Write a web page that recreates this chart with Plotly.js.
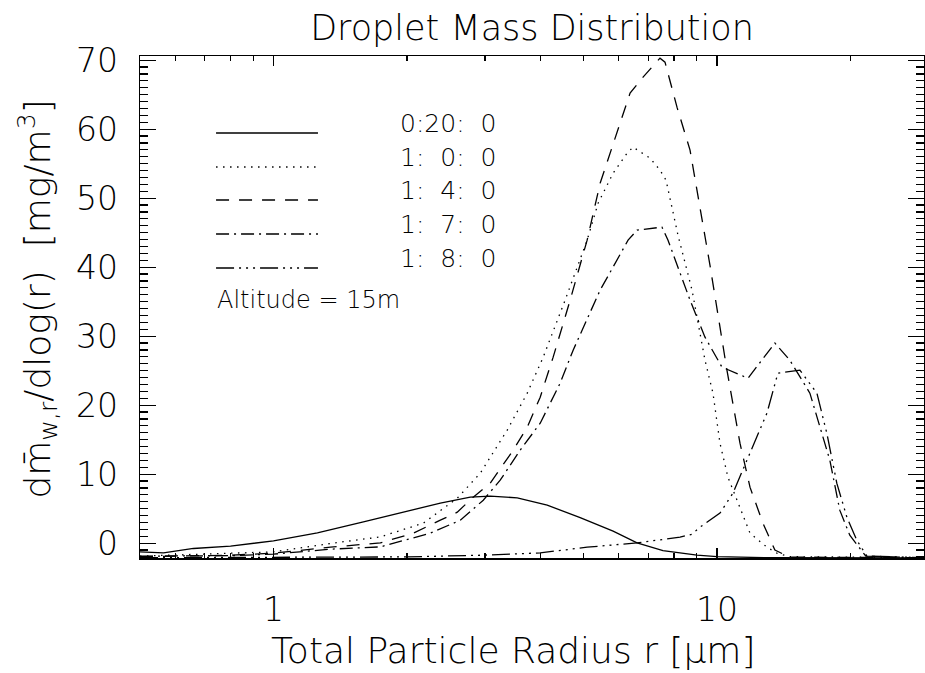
<!DOCTYPE html>
<html>
<head>
<meta charset="utf-8">
<script src="https://cdn.plot.ly/plotly-3.0.1.min.js"></script>
<style>
html,body{margin:0;padding:0;background:#fff;}
#chart{width:925px;height:673px;}
</style>
</head>
<body>
<div id="chart"></div>
<script>
// ---- data (radius in micrometres, dm/dlog(r) in mg/m^3) ----
const r_0_20_0 = [0.50,0.565,0.66,0.80,1.00,1.256,1.595,2.004,2.378,2.778,3.082,3.545,4.142,4.915,5.832,6.604,7.556,9.016,10.0,12.96,29.3];
const v_0_20_0 = [-1.26,-1.41,-0.77,-0.43,0.33,1.49,3.09,4.68,5.80,6.67,6.81,6.57,5.51,3.70,1.74,0.04,-1.09,-1.74,-1.96,-2.10,-2.12];

const r_1_0_0 = [0.50,0.595,0.80,1.00,1.344,1.742,2.177,2.597,2.926,3.365,3.734,4.057,4.546,5.096,5.396,5.832,6.271,6.469,7.065,7.44,7.676,7.918,8.168,8.786,9.397,9.795,10.157,10.587,11.093,11.871,12.962,13.65,14.60,29.3];
const v_1_0_0 = [-1.88,-1.74,-1.52,-1.26,-0.04,0.91,2.90,6.52,10.14,16.38,21.74,26.96,35.22,43.91,49.28,53.62,56.52,57.39,55.80,54.06,52.61,48.70,44.64,36.67,26.52,21.74,14.49,9.57,6.23,1.45,-0.58,-1.45,-1.96,-2.10];

const r_1_4_0 = [0.50,0.80,1.00,1.344,1.742,2.067,2.378,2.597,2.821,3.082,3.472,3.734,3.994,4.272,4.666,5.096,5.452,5.832,6.369,6.813,7.44,7.636,8.126,8.695,9.643,10.532,11.27,11.871,12.696,13.51,14.60,29.3];
const v_1_4_0 = [-1.96,-1.74,-1.45,-0.58,0.04,1.45,3.33,4.49,6.67,8.70,13.48,16.81,21.16,26.96,35.22,43.91,52.17,57.97,65.22,67.54,70.29,69.71,63.19,56.96,40.29,25.07,14.49,8.12,2.90,-1.01,-2.03,-2.10];

const r_1_7_0 = [0.50,0.80,1.00,1.344,1.742,2.258,2.638,2.972,3.245,3.60,3.994,4.43,4.739,5.452,6.303,6.604,7.517,7.756,8.695,9.397,10.263,11.748,13.51,14.60,16.20,17.06,17.97,18.92,19.93,21.66,29.3];
const v_1_7_0 = [-1.88,-1.81,-1.59,-0.87,-0.54,1.45,3.33,6.23,9.13,13.48,17.39,23.19,27.97,36.67,43.91,45.36,45.80,43.91,35.22,29.86,25.51,23.91,28.99,26.52,21.74,16.81,12.03,4.78,1.16,-1.88,-2.10];

const r_1_8_0 = [0.50,1.00,2.004,2.972,3.994,5.096,6.604,8.255,8.786,9.157,10.157,10.865,11.871,12.962,13.72,15.38,16.80,17.69,18.63,19.63,20.67,21.78,29.3];
const v_1_8_0 = [-2.10,-2.03,-1.99,-1.74,-1.41,-0.58,0.04,0.87,1.30,2.32,4.35,7.25,13.04,18.84,24.64,25.07,21.74,15.94,8.70,3.77,0.43,-1.88,-2.10];

const seriesLabels = ['0:20: 0','1: 0: 0','1: 4: 0','1: 7: 0','1: 8: 0'];
const xMajorTicks = [1, 10];
const xMajorText = ['1', '10'];
const xMinorTicks = [0.5,0.6,0.7,0.8,0.9,2,3,4,5,6,7,8,9,20,30];
const yMajorTicks = [0,10,20,30,40,50,60,70];
const altitudeNote = 'Altitude = 15m';

// ---- styling ----
const FONT = 'DejaVu Sans, Liberation Sans, sans-serif';
const W = 200;
const dashes = ['solid', '1.5px,5.5px', '13px,10px', '13px,5px,2px,5px', '18px,5px,2px,5px,2px,5px,2px,5px'];
const xs = [r_0_20_0, r_1_0_0, r_1_4_0, r_1_7_0, r_1_8_0];
const ys = [v_0_20_0, v_1_0_0, v_1_4_0, v_1_7_0, v_1_8_0];

const traces = xs.map((x, i) => ({
  x: x, y: ys[i], type: 'scatter', mode: 'lines', name: seriesLabels[i],
  line: {color: '#000', width: 1.3, dash: dashes[i]},
  hoverinfo: 'skip', showlegend: false
}));

// legend drawn as in the original (long line samples + labels inside the plot)
const legendRowsY = [0.8466, 0.7789, 0.7131, 0.6454, 0.5777];
const shapes = legendRowsY.map((y, i) => ({
  type: 'line', xref: 'paper', yref: 'paper', x0: 0.097, x1: 0.227, y0: y, y1: y,
  line: {color: '#000', width: 1.3, dash: dashes[i]}
}));
const annotations = legendRowsY.map((y, i) => ({
  xref: 'paper', yref: 'paper', x: 0.456, y: y + 0.018, xanchor: 'right', yanchor: 'middle',
  text: seriesLabels[i].replace(/ /g, '\u00A0\u00A0'), showarrow: false,
  font: {family: FONT, size: 25, color: '#000', weight: W}
}));
annotations.push({
  xref: 'paper', yref: 'paper', x: 0.0957, y: 0.514, xanchor: 'left', yanchor: 'middle',
  text: altitudeNote.replace(/ /g, '\u00A0'), showarrow: false, font: {family: FONT, size: 24, color: '#000', weight: W}
});
annotations.push({
  xref: 'paper', yref: 'paper', x: 0.4758, y: -0.185, xanchor: 'center', yanchor: 'middle',
  text: 'Total Particle Radius r [μm]', showarrow: false,
  font: {family: FONT, size: 36, color: '#000', weight: W}
});
annotations.push({
  xref: 'paper', yref: 'paper', x: -0.13, y: 0.515, xanchor: 'center', yanchor: 'middle', textangle: -90,
  text: 'dm\u0304<sub>w,r</sub>/dlog(r)\u00A0\u00A0[mg/m<sup>3</sup>]', showarrow: false,
  font: {family: FONT, size: 36, color: '#000', weight: W}
});

const layout = {
  width: 925, height: 673,
  paper_bgcolor: '#fff', plot_bgcolor: '#fff',
  margin: {l: 140, r: 1, t: 56, b: 115, pad: 0},
  title: {text: 'Droplet Mass Distribution', x: 532/925, xanchor: 'center', y: 1 - 28/673, yanchor: 'middle',
          font: {family: FONT, size: 35, color: '#000', weight: W}},
  xaxis: {
    type: 'log', range: [Math.log10(0.5), Math.log10(29.3)],
    showgrid: false, zeroline: false, showline: true, linecolor: '#000', linewidth: 1.5, mirror: 'ticks',
    ticks: 'inside', ticklen: 10, tickwidth: 1.2, tickcolor: '#000',
    tickmode: 'array', tickvals: xMajorTicks, ticktext: xMajorText,
    tickfont: {family: FONT, size: 33, color: '#000', weight: W}, ticklabelstandoff: 22,
    minor: {ticks: 'inside', ticklen: 5, tickwidth: 1.2, tickcolor: '#000', tickvals: xMinorTicks, showgrid: false}
  },
  yaxis: {
    range: [-2.15, 70.6],
    showgrid: false, zeroline: false, showline: true, linecolor: '#000', linewidth: 1.5, mirror: 'ticks',
    ticks: 'inside', ticklen: 16, tickwidth: 1.2, tickcolor: '#000',
    tickmode: 'array', tickvals: yMajorTicks,
    tickfont: {family: FONT, size: 33, color: '#000', weight: W}, ticklabelstandoff: 14,
    minor: {ticks: 'inside', ticklen: 8, tickwidth: 1.2, tickcolor: '#000', dtick: 1, showgrid: false}
  },
  shapes: shapes,
  annotations: annotations
};

Plotly.newPlot('chart', traces, layout, {staticPlot: true, displayModeBar: false});
</script>
</body>
</html>
